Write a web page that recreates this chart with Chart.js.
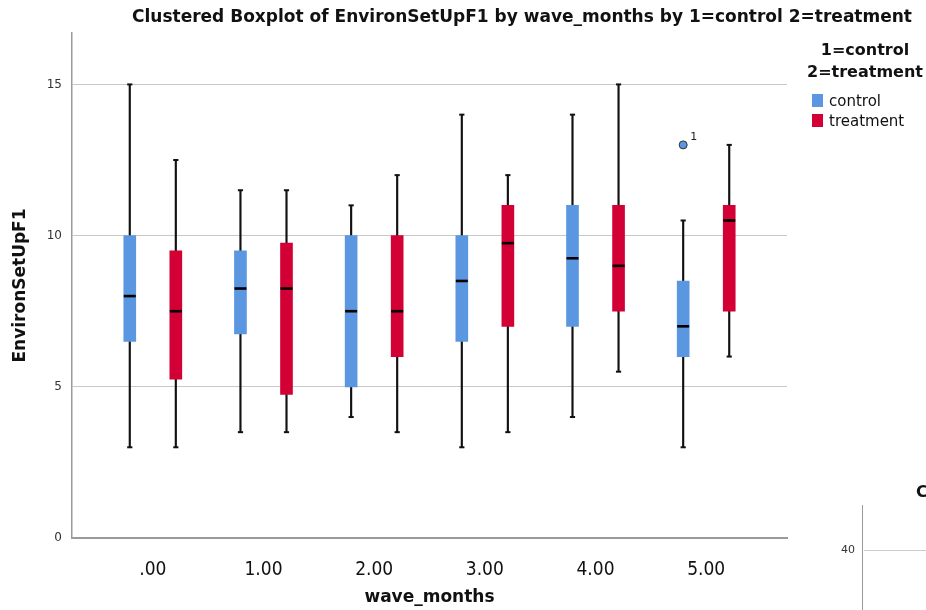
<!DOCTYPE html>
<html>
<head>
<meta charset="utf-8">
<script src="https://cdn.jsdelivr.net/npm/chart.js@4.4.0/dist/chart.umd.min.js"></script>
<style>
body { margin: 0; background: #fff; font-family: "DejaVu Sans", sans-serif; color: #111; }
#wrap { position: relative; width: 926px; height: 610px; overflow: hidden; }
#chart { position: absolute; left: 0; top: 0; }
#title { position: absolute; left: 0; width: 1044px; top: 6px; text-align: center; font-weight: bold; font-size: 17px; white-space: nowrap; }
#legend { position: absolute; left: 805px; top: 39px; width: 130px; }
#legend .head { font-weight: bold; font-size: 16px; line-height: 22px; text-align: center; width: 130px; margin-left: -5px; }
#legend .item { font-size: 15px; line-height: 20px; margin-left: 7px; }
#legend .sw { display: inline-block; width: 11px; height: 13px; margin-right: 6px; vertical-align: -1px; }
.stray { position: absolute; }
</style>
</head>
<body>
<div id="wrap">
  <canvas id="chart" width="926" height="610"></canvas>
  <div id="title">Clustered Boxplot of EnvironSetUpF1 by wave_months by 1=control 2=treatment</div>
  <div id="legend">
    <div class="head">1=control<br>2=treatment</div>
    <div style="height:8px"></div>
    <div class="item"><span class="sw" style="background:#5b97e1"></span>control</div>
    <div class="item"><span class="sw" style="background:#d30035"></span>treatment</div>
  </div>
  <!-- edge of the next chart in the screenshot -->
  <div class="stray" style="left:916px;top:482px;font-weight:bold;font-size:16px;">C</div>
  <div class="stray" style="left:862px;top:505px;width:1px;height:105px;background:#999;"></div>
  <div class="stray" style="left:864px;top:550px;width:62px;height:1px;background:#ccc;"></div>
  <div class="stray" style="left:841px;top:543px;font-size:11px;color:#333;">40</div>
</div>
<script>
// ================= DATA =================
const waves = [0, 1, 2, 3, 4, 5];
const waveLabels = [".00", "1.00", "2.00", "3.00", "4.00", "5.00"];

const ctrlMin = [3, 3.5, 4, 3, 4, 3];
const ctrlQ1 = [6.5, 6.75, 5, 6.5, 7, 6];
const ctrlMed = [8, 8.25, 7.5, 8.5, 9.25, 7];
const ctrlQ3 = [10, 9.5, 10, 10, 11, 8.5];
const ctrlMax = [15, 11.5, 11, 14, 14, 10.5];

const trtMin = [3, 3.5, 3.5, 3.5, 5.5, 6];
const trtQ1 = [5.25, 4.75, 6, 7, 7.5, 7.5];
const trtMed = [7.5, 8.25, 7.5, 9.75, 9, 10.5];
const trtQ3 = [9.5, 9.75, 10, 11, 11, 11];
const trtMax = [12.5, 11.5, 12, 12, 15, 13];

const ctrlOutlierWave = [5];
const ctrlOutlierValue = [13];
const ctrlOutlierLabel = ["1"];

// ================= HELPERS =================
const shift = 0.208;   // cluster offset within a wave
const blue = "#5b97e1";
const red = "#d30035";

function spans(xs, lo, hi, dx) {
    return xs.map((w, i) => ({ x: w + dx, y: [lo[i], hi[i]] }));
}
function pts(xs, vals, dx) {
    return xs.map((w, i) => ({ x: w + dx, y: vals[i] }));
}

function boxDatasets(lo, q1, med, q3, hi, dx, color) {
    return [
        { type: "bar", data: spans(waves, lo, hi, dx), backgroundColor: "#111",
          barThickness: 1.5, grouped: false, order: 3 },
        { type: "bar", data: spans(waves, q1, q3, dx), backgroundColor: color,
          barThickness: 12, grouped: false, borderSkipped: false, order: 2 },
        { type: "scatter", data: pts(waves, med, dx), pointStyle: "line",
          radius: 6, borderWidth: 2.6, borderColor: "#000", order: 1 },
        { type: "scatter", data: pts(waves, hi, dx).concat(pts(waves, lo, dx)), pointStyle: "line",
          radius: 2.6, borderWidth: 2, borderColor: "#111", order: 1 }
    ];
}

// ================= OUTLIER LABEL =================
const outlierLabels = {
    id: "outlierLabels",
    afterDatasetsDraw(chart) {
        const ds = chart.data.datasets.findIndex(d => d.label === "outliers");
        const meta = chart.getDatasetMeta(ds);
        const ctx = chart.ctx;
        ctx.save();
        ctx.font = "11px 'DejaVu Sans'";
        ctx.fillStyle = "#222";
        ctx.textAlign = "left";
        ctx.textBaseline = "bottom";
        meta.data.forEach((el, i) => ctx.fillText(ctrlOutlierLabel[i], el.x + 7, el.y - 2));
        ctx.restore();
    }
};

// ================= CHART =================
let datasets = []
    .concat(boxDatasets(ctrlMin, ctrlQ1, ctrlMed, ctrlQ3, ctrlMax, -shift, blue))
    .concat(boxDatasets(trtMin, trtQ1, trtMed, trtQ3, trtMax, shift, red));

datasets.push({
    type: "scatter", label: "outliers", data: pts(ctrlOutlierWave, ctrlOutlierValue, -shift),
    pointStyle: "circle", radius: 4, backgroundColor: blue, borderColor: "#333", borderWidth: 1, order: 0
});

new Chart(document.getElementById("chart"), {
    type: "bar",
    data: { datasets },
    options: {
        responsive: false,
        animation: false,
        events: [],
        layout: { padding: { left: 0, right: 139, top: 33, bottom: 0 } },
        plugins: { legend: { display: false }, tooltip: { enabled: false } },
        scales: {
            x: {
                type: "linear",
                offset: false,
                min: -0.73,
                max: 5.73,
                grid: { display: false, drawTicks: false, offset: false },
                border: { color: "#9a9a9a", width: 2 },
                ticks: {
                    stepSize: 1, includeBounds: false, autoSkip: false, maxRotation: 0,
                    padding: 21, color: "#111",
                    font: { family: "DejaVu Sans Condensed", size: 19 },
                    callback: v => waveLabels[waves.indexOf(v)]
                },
                title: {
                    display: true, text: "wave_months", color: "#111",
                    font: { family: "DejaVu Sans", size: 17, weight: "bold" },
                    padding: { top: 0, bottom: 2 }
                },
                afterFit: s => { s.height = 72; }
            },
            y: {
                min: 0,
                max: 16.7,
                grid: { color: "#c8c8c8", lineWidth: 1, drawTicks: false },
                border: { color: "#9a9a9a", width: 1.5 },
                ticks: {
                    stepSize: 5, includeBounds: false, padding: 10, color: "#333",
                    font: { family: "DejaVu Sans", size: 12 }
                },
                title: {
                    display: true, text: "EnvironSetUpF1", color: "#111",
                    font: { family: "DejaVu Sans", size: 17, weight: "bold" },
                    padding: { top: 10 }
                },
                afterFit: s => { s.width = 72; }
            }
        }
    },
    plugins: [outlierLabels]
});
</script>
</body>
</html>
